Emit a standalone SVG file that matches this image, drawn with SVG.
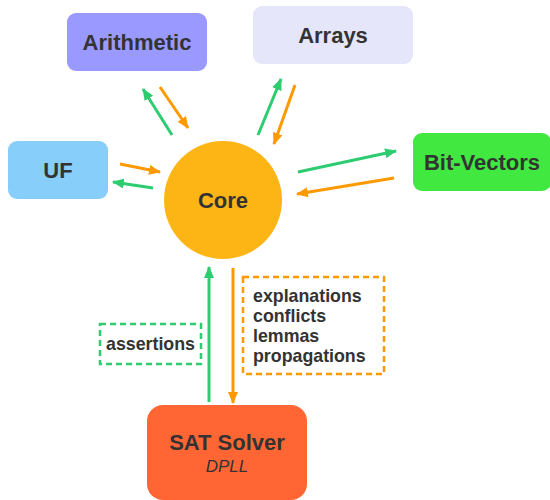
<svg xmlns="http://www.w3.org/2000/svg" width="550" height="500" viewBox="0 0 550 500">
<style>
.t{font-family:"Liberation Sans",Arial,sans-serif;font-weight:bold;fill:#333;}
.big{font-size:22px;text-anchor:middle;}
.sm{font-size:17.8px;}
.g{stroke:#2ecc71;stroke-width:3;fill:none;}
.o{stroke:#ff9900;stroke-width:3;fill:none;}
</style>
<defs>
<marker id="ag" markerWidth="12" markerHeight="10" refX="11" refY="5" orient="auto" markerUnits="userSpaceOnUse"><path d="M0,0 L12,5 L0,10 Z" fill="#2ecc71"/></marker>
<marker id="ao" markerWidth="12" markerHeight="10" refX="11" refY="5" orient="auto" markerUnits="userSpaceOnUse"><path d="M0,0 L12,5 L0,10 Z" fill="#ff9900"/></marker>
</defs>
<rect width="550" height="500" fill="#fff"/>
<g id="arithmetic"><rect x="67" y="13" width="140" height="58" rx="9" fill="#9999ff"/><text class="t big" x="137" y="50">Arithmetic</text></g>
<g id="arrays"><rect x="253" y="6" width="160" height="58" rx="9" fill="#e6e6fa"/><text class="t big" x="333" y="43">Arrays</text></g>
<g id="uf"><rect x="8" y="141" width="100" height="58" rx="9" fill="#87cefa"/><text class="t big" x="58" y="178">UF</text></g>
<g id="bitvectors"><rect x="413" y="133" width="138" height="58" rx="9" fill="#40e840"/><text class="t big" x="482" y="170">Bit-Vectors</text></g>
<g id="core"><circle cx="223" cy="200" r="59" fill="#fdb515"/><text class="t big" x="223" y="208">Core</text></g>
<g id="sat"><rect x="147" y="405" width="160" height="95" rx="16" fill="#ff6633"/><text class="t big" x="227" y="450">SAT Solver</text><text x="227" y="472" text-anchor="middle" style="font-family:'Liberation Sans',Arial,sans-serif;font-style:italic;font-size:17px;fill:#333">DPLL</text></g>
<g id="assertions-label"><rect x="100" y="324" width="101" height="40" fill="none" stroke="#2ecc71" stroke-width="2.5" stroke-dasharray="6,4"/><text class="t sm" x="150.5" y="350" text-anchor="middle">assertions</text></g>
<g id="feedback-label"><rect x="243" y="277" width="141" height="97" fill="none" stroke="#ff9900" stroke-width="2.5" stroke-dasharray="6,4"/><text class="t sm" x="253" y="302">explanations</text><text class="t sm" x="253" y="322">conflicts</text><text class="t sm" x="253" y="342">lemmas</text><text class="t sm" x="253" y="362">propagations</text></g>
<g id="connectors">
<line class="g" x1="172" y1="135" x2="143" y2="89" marker-end="url(#ag)"/>
<line class="o" x1="160" y1="87" x2="188" y2="128" marker-end="url(#ao)"/>
<line class="o" x1="120" y1="164" x2="160" y2="172" marker-end="url(#ao)"/>
<line class="g" x1="153" y1="188" x2="113" y2="182" marker-end="url(#ag)"/>
<line class="g" x1="258" y1="135" x2="281" y2="79" marker-end="url(#ag)"/>
<line class="o" x1="295" y1="85" x2="274" y2="144" marker-end="url(#ao)"/>
<line class="g" x1="298" y1="172" x2="396" y2="151" marker-end="url(#ag)"/>
<line class="o" x1="394" y1="178" x2="297" y2="194" marker-end="url(#ao)"/>
<line class="g" x1="209" y1="402" x2="209" y2="267" marker-end="url(#ag)"/>
<line class="o" x1="233" y1="268" x2="233" y2="403" marker-end="url(#ao)"/>
</g>
</svg>
